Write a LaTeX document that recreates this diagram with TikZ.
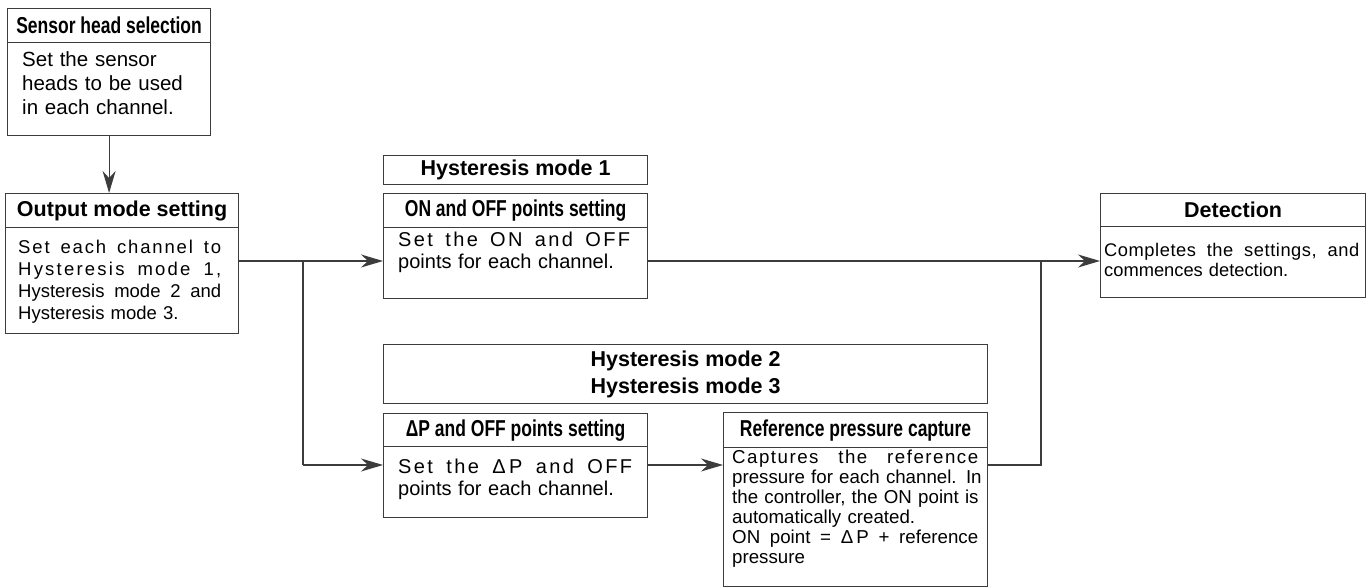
\documentclass[tikz,border=0pt]{standalone}
\usepackage{fontspec}
\setmainfont{Liberation Sans}
\newfontfamily\condbf[FakeStretch=0.76]{Liberation Sans Bold}
\usetikzlibrary{arrows.meta}
\definecolor{lc}{RGB}{60,60,60}
\newcommand\ttlcond{\condbf\fontsize{23bp}{26bp}\selectfont}
\newcommand\ttlbold{\bfseries\fontsize{21.5bp}{27bp}\selectfont}
\newcommand\bodysensor{\fontsize{20.5bp}{24bp}\selectfont}
\newcommand\bodyout{\fontsize{18.5bp}{22bp}\selectfont}
\newcommand\bodyset{\fontsize{20bp}{22bp}\selectfont}
\newcommand\bodyref{\fontsize{18.7bp}{20bp}\selectfont}
\newcommand\bodydet{\fontsize{18.3bp}{20bp}\selectfont}
\newcommand\jline[3][0]{\leavevmode\hbox to #2{\addfontfeature{LetterSpace=#1}#3}}
\begin{document}
\begin{tikzpicture}[x=1bp,y=-1bp,
  frame/.style={draw=lc,line width=1.2bp,inner sep=0pt,anchor=north west,text=black},
  bodytext/.style={inner sep=0pt,anchor=base west,align=left,text=black,text width=320bp},
  conn/.style={draw=lc,line width=1.2bp},
  arr/.style={conn,-{Stealth[length=22bp,width=13bp,inset=7bp]}}]
\fill[white] (0,0) rectangle (1370,588);
\useasboundingbox (0,0) rectangle (1370,588);

% Sensor head selection
\node[frame,minimum width=203bp,minimum height=34bp,font=\ttlcond] (s1t) at (7,8) {Sensor head selection};
\node[frame,minimum width=203bp,minimum height=93bp] (s1b) at (7,42) {};
\node[bodytext,font=\bodysensor] (s1x) at ([xshift=15bp,yshift=-25bp]s1b.north west)
  {Set the sensor\\heads to be used\\in each channel.};

% Output mode setting
\node[frame,minimum width=233bp,minimum height=34bp,font=\ttlbold] (o1t) at (5,193) {Output mode setting};
\node[frame,minimum width=233bp,minimum height=106bp] (o1b) at (5,227) {};
\node[bodytext,font=\bodyout] (o1x) at ([xshift=13bp,yshift=-26bp]o1b.north west)
  {\jline[10]{203bp}{Set\hfill each\hfill channel\hfill to}\\\jline[12]{203bp}{Hysteresis\hfill mode\hfill 1,}\\\jline{203bp}{Hysteresis\hfill mode\hfill 2\hfill and}\\Hysteresis mode 3.};

% Hysteresis mode 1
\node[frame,minimum width=264bp,minimum height=29bp,font=\ttlbold] (hm1) at (383,155) {Hysteresis mode 1};
\node[frame,minimum width=264bp,minimum height=34bp,font=\ttlcond] (h1t) at (383,193) {ON and OFF points setting};
\node[frame,minimum width=264bp,minimum height=71bp] (h1b) at (383,227) {};
\node[bodytext,font=\bodyset] (h1x) at ([xshift=15bp,yshift=-19bp]h1b.north west)
  {\jline[12]{232bp}{Set\hfill the\hfill ON\hfill and\hfill OFF}\\points for each channel.};

% Hysteresis mode 2/3
\node[frame,minimum width=604bp,minimum height=59bp,align=center,font=\ttlbold] (hm23) at (383,344)
  {Hysteresis mode 2\\Hysteresis mode 3};

% Delta P
\node[frame,minimum width=264bp,minimum height=33bp,font=\ttlcond] (dpt) at (383,413) {ΔP and OFF points setting};
\node[frame,minimum width=264bp,minimum height=71bp] (dpb) at (383,446) {};
\node[bodytext,font=\bodyset] (dpx) at ([xshift=15bp,yshift=-27bp]dpb.north west)
  {\jline[12]{234bp}{Set\hfill the\hfill Δ\,P\hfill and\hfill OFF}\\points for each channel.};

% Reference pressure capture
\node[frame,minimum width=264bp,minimum height=139bp] (rfb) at (723,447) {};
\node[frame,minimum width=264bp,minimum height=35bp,font=\ttlcond] (rft) at (723,412) {Reference pressure capture};
\node[bodytext,font=\bodyref] (rfx) at ([xshift=9bp,yshift=-16bp]rfb.north west)
  {\jline[8]{246bp}{Captures\hfill the\hfill reference}\\pressure for each channel. In\\the controller, the ON point is\\automatically created.\\\jline{246bp}{ON\hfill point\hfill =\hfill Δ\,P\hfill +\hfill reference}\\pressure};

% Detection
\node[frame,minimum width=265bp,minimum height=33bp,font=\ttlbold] (dtt) at (1100,193) {Detection};
\node[frame,minimum width=265bp,minimum height=71bp] (dtb) at (1100,226) {};
\node[bodytext,font=\bodydet] (dtx) at ([xshift=4bp,yshift=-30bp]dtb.north west)
  {\jline[3]{255bp}{Completes\hfill the\hfill settings,\hfill and}\\commences detection.};

% connectors
\coordinate (j1) at (303,261);
\coordinate (j2) at (303,465);
\coordinate (j3) at (1041,261);
\draw[arr] (s1b.south) -- (s1b.south |- o1t.north);
\draw[conn] (o1b.east |- j1) -- (j1);
\draw[arr] (j1) -- (j1 -| h1b.west);
\draw[conn] (j1) -- (j2);
\draw[arr] (j2) -- (j2 -| dpb.west);
\draw[arr] (dpb.east |- j2) -- (j2 -| rfb.west);
\draw[arr] (h1b.east |- j1) -- (j1 -| dtb.west);
\draw[conn] (rfb.east |- j2) -- (j2 -| j3) -- (j3);
\end{tikzpicture}
\end{document}
